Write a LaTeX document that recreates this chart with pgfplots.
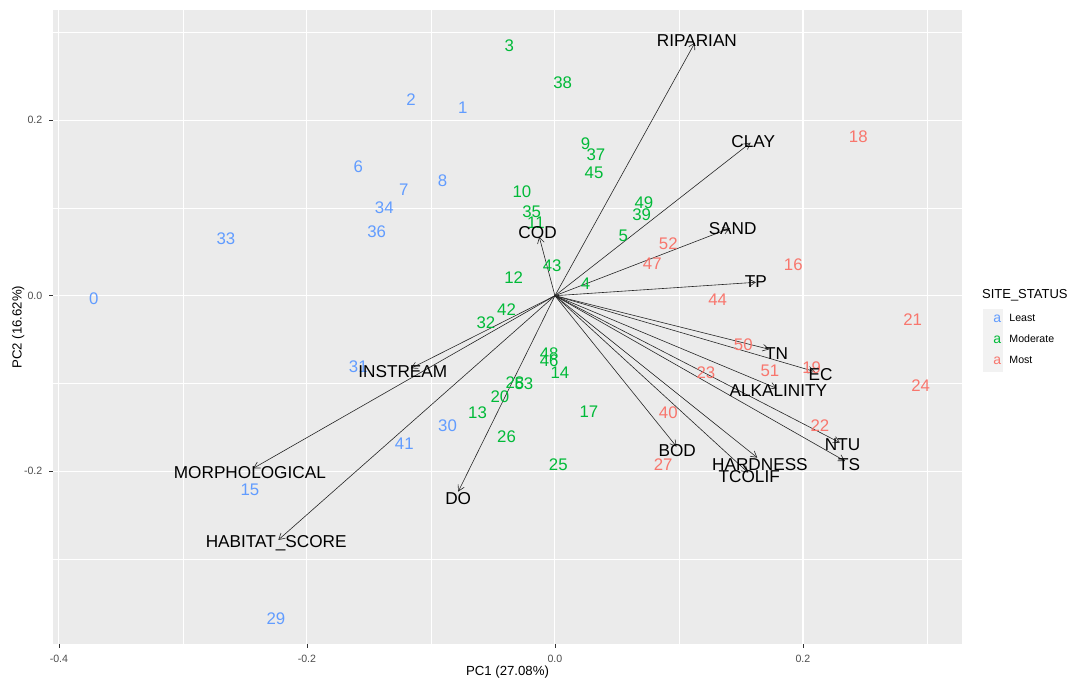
\documentclass[border=0pt]{standalone}
\usepackage{fontspec}
\setmainfont{Liberation Sans}
\usepackage{pgfplots}
\usepackage{pgfplotstable}
\pgfplotsset{compat=1.18}
\usetikzlibrary{arrows.meta}
\definecolor{lblue}{HTML}{619CFF}
\definecolor{lgreen}{HTML}{00BA38}
\definecolor{lred}{HTML}{F8766D}
\definecolor{panel}{HTML}{EBEBEB}
\definecolor{tickgrey}{HTML}{4D4D4D}
\definecolor{keygrey}{HTML}{F2F2F2}

\pgfplotstableread{
x y label
-0.3718 -0.0030 0
-0.2653 0.0654 33
-0.1161 0.2237 2
-0.0744 0.2146 1
-0.1586 0.1469 6
-0.1218 0.1204 7
-0.0906 0.1306 8
-0.1376 0.1007 34
-0.1438 0.0729 36
-0.1586 -0.0809 31
-0.0866 -0.1484 30
-0.1215 -0.1681 41
-0.2460 -0.2205 15
-0.2250 -0.3674 29
}\least

\pgfplotstableread{
x y label
-0.0368 0.2847 3
0.0062 0.2430 38
0.0247 0.1736 9
0.0331 0.1610 37
0.0315 0.1401 45
-0.0266 0.1181 10
-0.0188 0.0953 35
-0.0153 0.0836 11
0.0718 0.1064 49
0.0699 0.0919 39
0.0551 0.0683 5
-0.0022 0.0342 43
-0.0333 0.0205 12
0.0247 0.0141 4
-0.0390 -0.0155 42
-0.0556 -0.0303 32
-0.0046 -0.0664 48
-0.0046 -0.0740 46
0.0040 -0.0873 14
-0.0323 -0.0991 28
-0.0250 -0.1006 53
-0.0444 -0.1150 20
-0.0624 -0.1328 13
0.0274 -0.1321 17
-0.0390 -0.1606 26
0.0027 -0.1928 25
}\moderate

\pgfplotstableread{
x y label
0.2446 0.1811 18
0.0914 0.0597 52
0.0785 0.0361 47
0.1922 0.0350 16
0.1312 -0.0049 44
0.2885 -0.0269 21
0.1519 -0.0562 50
0.1734 -0.0854 51
0.2070 -0.0816 19
0.1218 -0.0873 23
0.2949 -0.1028 24
0.2137 -0.1480 22
0.0914 -0.1333 40
0.0873 -0.1928 27
}\most

\pgfplotstableread{
u v lx ly name
0.1129 0.2882 0.1145 0.2904 RIPARIAN
0.1578 0.1743 0.1599 0.1754 CLAY
0.1411 0.0768 0.1433 0.0760 SAND
0.1621 0.0153 0.1621 0.0159 TP
-0.0127 0.0672 -0.0140 0.0722 COD
0.1728 -0.0610 0.1788 -0.0656 TN
0.2097 -0.0865 0.2143 -0.0895 EC
0.1788 -0.1055 0.1801 -0.1085 ALKALINITY
0.2298 -0.1674 0.2320 -0.1700 NTU
0.2339 -0.1883 0.2373 -0.1928 TS
0.1632 -0.1845 0.1653 -0.1920 HARDNESS
0.1559 -0.2016 0.1567 -0.2061 TCOLIF
0.0981 -0.1720 0.0986 -0.1769 BOD
-0.0780 -0.2232 -0.0780 -0.2315 DO
-0.1161 -0.0827 -0.1227 -0.0866 INSTREAM
-0.2433 -0.1966 -0.2460 -0.2016 MORPHOLOGICAL
-0.2231 -0.2782 -0.2248 -0.2813 HABITAT\_SCORE
}\vars

\pgfplotsset{
  lbl/.style={draw=none, mark=none, color=#1,
    nodes near coords, point meta=explicit symbolic,
    nodes near coords align=center,
    every node near coord/.append style={font=\fontsize{8.4}{9}\selectfont, text=#1, inner sep=0pt},
    legend image code/.code={
      \fill[keygrey] (0pt,-5.275pt) rectangle (10.2pt,5.275pt);
      \node[text=#1, inner sep=0pt, font=\fontsize{7}{8}\selectfont] at (5.1pt,-0.6pt) {a};
    }
  }
}

\begin{document}
\begin{tikzpicture}
\useasboundingbox (0,0) rectangle (535pt,340pt);
\begin{axis}[
  at={(26.35pt,17.85pt)}, anchor=south west,
  scale only axis, width=454.8pt, height=317.15pt,
  xmin=-0.405, xmax=0.3285, ymin=-0.397, ymax=0.3254,
  clip=false,
  axis background/.style={fill=panel},
  axis line style={draw=none},
  xtick={-0.4,-0.2,0,0.2}, ytick={-0.2,0,0.2},
  minor xtick={-0.3,-0.1,0.1,0.3}, minor ytick={-0.3,-0.1,0.1,0.3},
  grid=both,
  major grid style={white, line width=0.55pt},
  minor grid style={white, line width=0.28pt},
  tick align=outside, major tick length=1.65pt, minor tick length=0pt,
  tick pos=left,
  tick style={color=black!80, line width=0.27pt},
  /pgf/number format/fixed, /pgf/number format/fixed zerofill,
  /pgf/number format/precision=1, /pgf/number format/assume math mode=true,
  ticklabel style={font=\fontsize{5.3}{6}\selectfont, text=tickgrey},
  xlabel={PC1 (27.08\%)}, ylabel={PC2 (16.62\%)},
  label style={font=\fontsize{6.6}{8}\selectfont},
  xlabel style={at={(axis description cs:0.5,-0.0432)}, anchor=center},
  ylabel style={at={(axis description cs:-0.0378,0.5)}, anchor=center},
  legend style={at={(axis description cs:1.022,0.5300)}, anchor=north west,
    draw=none, fill=none, inner sep=0pt, row sep=0pt, column sep=3.15pt,
    font=\fontsize{5.3}{6}\selectfont, cells={anchor=west}, nodes={inner sep=0pt}},
]
\addplot[lbl=lblue] table[x=x, y=y, meta=label] {\least};
\addlegendentry{Least}
\addplot[lbl=lgreen] table[x=x, y=y, meta=label] {\moderate};
\addlegendentry{Moderate}
\addplot[lbl=lred] table[x=x, y=y, meta=label] {\most};
\addlegendentry{Most}
\addplot[forget plot, black!85, line width=0.3pt, mark=none,
  -{Straight Barb[length=3pt,width=3.4pt]},
  quiver={u=\thisrow{u}, v=\thisrow{v}}]
  table[x expr=0, y expr=0] {\vars};
\addplot[forget plot, draw=none, mark=none, nodes near coords,
  point meta=explicit symbolic, nodes near coords align=center,
  every node near coord/.append style={font=\fontsize{8.6}{9}\selectfont, text=black, inner sep=0pt}]
  table[x=lx, y=ly, meta=name] {\vars};
\end{axis}
\node[anchor=west, inner sep=0pt, font=\fontsize{6.5}{8}\selectfont] at (490.85pt,192.5pt) {SITE\_STATUS};
\end{tikzpicture}
\end{document}
